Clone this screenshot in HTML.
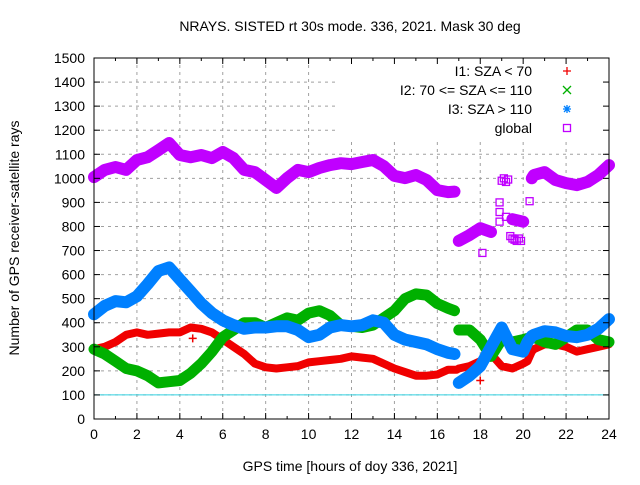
<!DOCTYPE html>
<html><head><meta charset="utf-8"><style>
body{margin:0;background:#fff}
svg text{font-family:"Liberation Sans",sans-serif;font-size:14px;fill:#000}
</style></head><body>
<svg id="c" width="640" height="480" xmlns="http://www.w3.org/2000/svg">
<rect width="640" height="480" fill="#fff"/>
<g id="grid"></g><g id="series"></g><g id="axes"></g>
</svg>
<script>
const hours=[0,0.5,1,1.5,2,2.5,3,3.5,4,4.5,5,5.5,6,6.5,7,7.5,8,8.5,9,9.5,10,10.5,11,11.5,12,12.5,13,13.5,14,14.5,15,15.5,16,16.5,16.8,16.9,17,17.5,18,18.5,19,19.5,20,20.2,20.4,20.5,21,21.5,22,22.5,23,23.5,24];
const i1Vals=[290,300,320,350,360,350,355,360,360,380,375,360,330,300,270,230,215,210,215,220,235,240,245,250,260,255,250,230,210,195,180,180,185,205,205,205,210,220,240,270,220,210,230,240,280,290,310,310,300,280,290,300,310];
const i2Vals=[290,270,240,210,200,180,150,155,160,190,230,280,340,370,400,400,380,400,420,410,440,450,430,390,385,380,390,420,450,500,520,515,480,460,450,null,370,370,330,260,330,320,330,335,340,340,320,310,340,370,370,330,320];
const i3Vals=[435,470,490,485,510,560,615,630,580,530,480,440,410,390,375,380,380,385,385,370,340,350,380,390,385,390,410,400,350,330,320,310,290,275,270,null,150,180,220,300,380,290,280,320,345,350,365,360,345,340,350,375,415];
const globalVals=[1005,1035,1047,1035,1076,1088,1117,1147,1097,1088,1097,1084,1110,1084,1035,1026,993,960,1001,1035,1026,1043,1055,1063,1059,1068,1076,1051,1010,1001,1014,993,951,943,945,null,740,764,793,777,null,830,820,null,1000,1014,1026,993,980,972,985,1014,1055];
const globalExtraX=[18.1,18.9,18.9,18.9,19.0,19.1,19.2,19.3,19.2,19.4,19.5,19.6,19.7,19.8,19.9,20.3];
const globalExtraY=[690,860,820,900,990,1000,985,995,840,760,750,745,740,750,740,905];
const i1ExtraX=[4.6,18];
const i1ExtraY=[335,160];
const xTicks=[0,2,4,6,8,10,12,14,16,18,20,22,24];
const yTicks=[0,100,200,300,400,500,600,700,800,900,1000,1100,1200,1300,1400,1500];
const L=94,R=609,T=58,B=419;
const X=h=>L+(R-L)*h/24, Y=v=>B-(B-T)*v/1500;
const NS="http://www.w3.org/2000/svg";
function mk(tag,par,at){const e=document.createElementNS(NS,tag);for(const k in at)e.setAttribute(k,at[k]);document.getElementById(par).appendChild(e);return e;}
yTicks.forEach(v=>{if(v===0||v===1500)return;const g=mk('line','grid',{x1:L,x2:R,y1:Y(v),y2:Y(v),stroke:'#a0a0a0','stroke-dasharray':'3,4'});

});
xTicks.forEach(h=>{if(h===0||h===24)return;const g=mk('line','grid',{x1:X(h),x2:X(h),y1:T,y2:B,stroke:'#a0a0a0','stroke-dasharray':'3,4'});

});
const ref=mk('line','grid',{x1:L,x2:R,y1:Y(100),y2:Y(100),stroke:'#30d0e0'});


const lb=mk('rect','grid',{x:336,y:T+1,width:R-336-1,height:80,fill:'#fff'});


function drawSeries(vals,color,w,name){
  let d='',pen=false;
  vals.forEach((v,i)=>{if(v===null){pen=false;return;}d+=(pen?'L':'M')+X(hours[i]).toFixed(1)+' '+Y(v).toFixed(1)+' ';pen=true;});
  const p=mk('path','series',{d:d,fill:'none',stroke:color,'stroke-width':w,'stroke-linejoin':'round','stroke-linecap':'round'});
  
  
}
drawSeries(i1Vals,'#f00000',8,'series-i1');
i1ExtraX.forEach((h,i)=>{const p=mk('path','series',{d:`M${X(h)-4} ${Y(i1ExtraY[i])}h8M${X(h)} ${Y(i1ExtraY[i])-4}v8`,stroke:'#f00000','stroke-width':1.5});

});
drawSeries(i2Vals,'#00b000',11,'series-i2');
drawSeries(i3Vals,'#0080ff',12,'series-i3');
drawSeries(globalVals,'#c000ff',12,'series-global');
globalExtraX.forEach((h,i)=>{const p=mk('rect','series',{x:X(h)-3.5,y:Y(globalExtraY[i])-3.5,width:7,height:7,fill:'none',stroke:'#c000ff','stroke-width':1.3});

});
const fr=mk('rect','axes',{x:L,y:T,width:R-L,height:B-T,fill:'none',stroke:'#000'});


yTicks.forEach(v=>{
  mk('line','axes',{x1:L,x2:L+6,y1:Y(v),y2:Y(v),stroke:'#000'});
  mk('line','axes',{x1:R,x2:R-6,y1:Y(v),y2:Y(v),stroke:'#000'});
  const t=mk('text','axes',{x:L-9,y:Y(v)+5,'text-anchor':'end'});t.textContent=v;
  
  
});
for(let h=0;h<=24;h++){
  const len=h%2===0?6:3;
  mk('line','axes',{x1:X(h),x2:X(h),y1:B,y2:B-len,stroke:'#000'});
  mk('line','axes',{x1:X(h),x2:X(h),y1:T,y2:T+len,stroke:'#000'});
}
xTicks.forEach(h=>{const t=mk('text','axes',{x:X(h),y:B+20,'text-anchor':'middle'});t.textContent=h;
  
  });
</script>
<svg width="640" height="480" style="position:absolute;left:0;top:0" xmlns="http://www.w3.org/2000/svg">
<text x="350" y="31" text-anchor="middle">NRAYS. SISTED rt 30s mode. 336, 2021. Mask 30 deg</text>
<text x="350" y="471" text-anchor="middle">GPS time [hours of doy 336, 2021]</text>
<text transform="translate(19,238) rotate(-90)" text-anchor="middle">Number of GPS receiver-satellite rays</text>
<g>
<text x="532" y="76" text-anchor="end">I1: SZA &lt; 70</text>
<path d="M563 71h8M567 67v8" stroke="#f00000" stroke-width="1.3"/>
<text x="532" y="95" text-anchor="end">I2: 70 &lt;= SZA &lt;= 110</text>
<path d="M563 86l8 8M571 86l-8 8" stroke="#00b000" stroke-width="1.3"/>
<text x="532" y="114" text-anchor="end">I3: SZA &gt; 110</text>
<path d="M563 109h8M567 105v8M564 106l6 6M570 106l-6 6" stroke="#0080ff" stroke-width="1.3"/>
<text x="532" y="133" text-anchor="end">global</text>
<rect x="563.5" y="124.5" width="7" height="7" fill="none" stroke="#c000ff" stroke-width="1.3"/>
</g>
</svg>
</body></html>
